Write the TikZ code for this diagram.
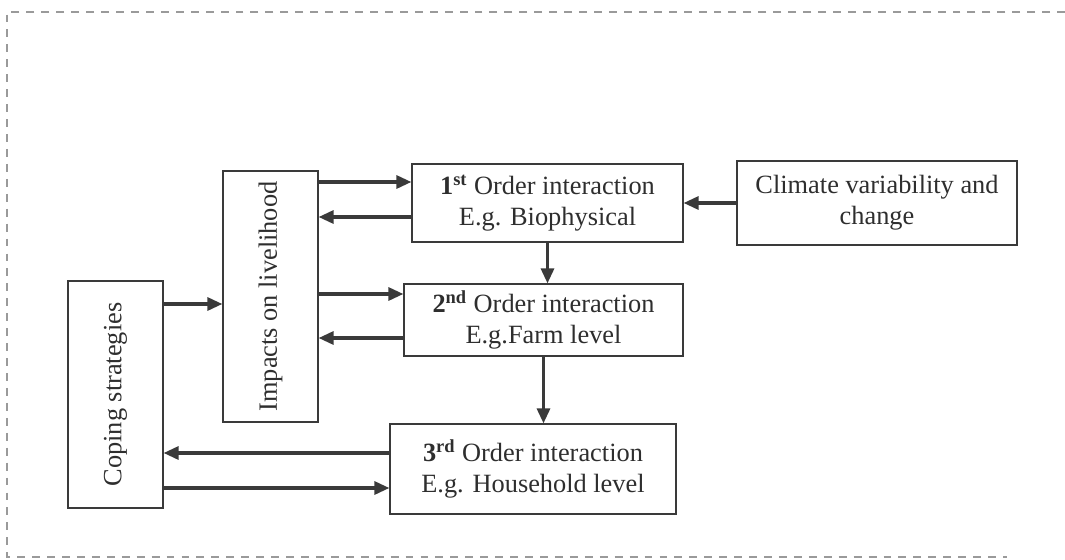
\documentclass[tikz,border=0pt]{standalone}
\usepackage{fontspec}
\setmainfont{Liberation Serif}
\usepackage{xcolor}
\usetikzlibrary{arrows.meta}
\definecolor{ink}{HTML}{2E2E2E}
\definecolor{edge}{HTML}{3A3A3A}
\definecolor{frame}{HTML}{9A9A9A}
\tikzset{
  box/.style={
    draw=edge,
    line width=0.7pt,
    text=ink,
    align=center,
    inner sep=2pt,
    font=\fontsize{15}{17.5}\selectfont
  },
  link/.style={draw=edge, line width=1.8pt, -{Triangle[length=3mm,width=2.6mm]}},
  border/.style={draw=frame, line width=0.8pt, dash pattern=on 4.5pt off 4pt}
}

\begin{document}
\begin{tikzpicture}
  \useasboundingbox (0,0) rectangle (21.3,-11.2);

  % dashed page frame (right side cut off)
  \draw[border] (21.3,-0.24) -- (0.14,-0.24) -- (0.14,-11.14) -- (20.14,-11.14);

  % side boxes with upright text
  \node[box, minimum width=1.9cm, minimum height=4.54cm] (cope) at (2.31,-7.89)
    {\rotatebox{90}{Coping strategies}};
  \node[box, minimum width=1.9cm, minimum height=5.02cm] (imp) at (5.41,-5.93)
    {\rotatebox{90}{Impacts on livelihood}};

  % order of interaction
  \node[box, minimum width=5.42cm, minimum height=1.56cm] (first) at (10.95,-4.06)
    {\textbf{1\textsuperscript{st}} Order interaction\\E.g. Biophysical};
  \node[box, minimum width=5.58cm, minimum height=1.44cm] (second) at (10.87,-6.40)
    {\textbf{2\textsuperscript{nd}} Order interaction\\E.g.Farm level};
  \node[box, minimum width=5.72cm, minimum height=1.8cm] (third) at (10.66,-9.38)
    {\textbf{3\textsuperscript{rd}} Order interaction\\E.g. Household level};
  \node[box, minimum width=5.6cm, minimum height=1.68cm] (clim) at (17.54,-4.06)
    {Climate variability and\\change};

  % arrow levels on the left sides
  \coordinate (r1) at ([yshift=4.2mm]first.west);
  \coordinate (l1) at ([yshift=-2.8mm]first.west);
  \coordinate (r2) at ([yshift=5.2mm]second.west);
  \coordinate (l2) at ([yshift=-3.6mm]second.west);
  \coordinate (l3) at ([yshift=3.2mm]third.west);
  \coordinate (r3) at ([yshift=-3.8mm]third.west);
  \coordinate (c1) at ([yshift=-1.5mm]imp.west);

  % connectors
  \draw[link] (clim.west) -- (first.east);
  \draw[link] (first.south) -- (first.south |- second.north);
  \draw[link] (second.south) -- (second.south |- third.north);
  \draw[link] (imp.east |- r1) -- (r1);
  \draw[link] (l1) -- (imp.east |- l1);
  \draw[link] (imp.east |- r2) -- (r2);
  \draw[link] (l2) -- (imp.east |- l2);
  \draw[link] (cope.east |- c1) -- (c1);
  \draw[link] (l3) -- (cope.east |- l3);
  \draw[link] (cope.east |- r3) -- (r3);
\end{tikzpicture}
\end{document}
